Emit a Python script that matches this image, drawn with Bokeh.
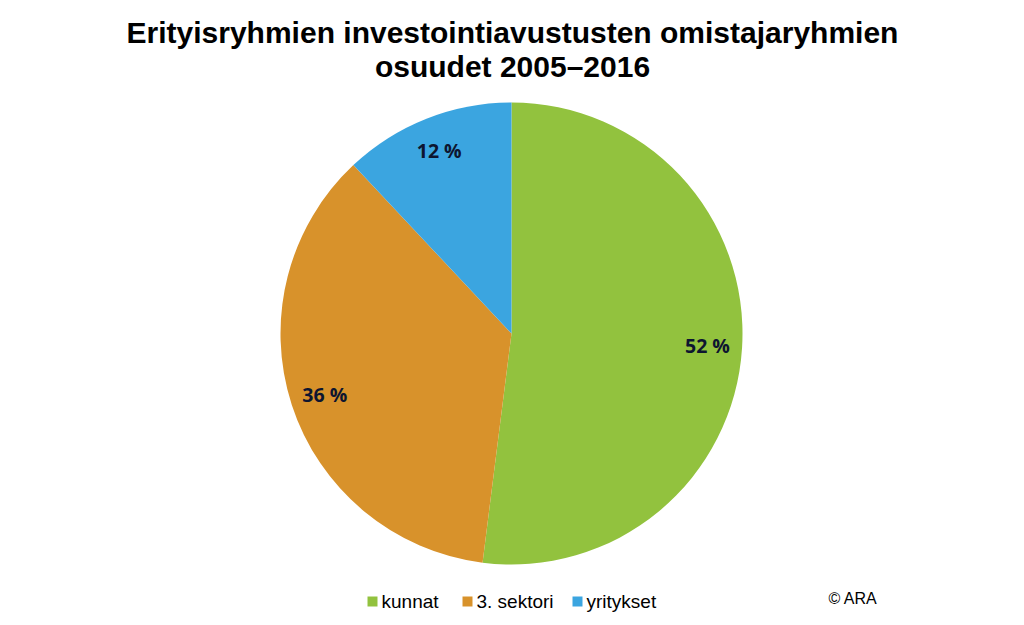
import math
from bokeh.plotting import figure
from bokeh.models import ColumnDataSource
from bokeh.core.properties import value
from bokeh.embed import file_html
from bokeh.resources import INLINE

categories = ["kunnat", "3. sektori", "yritykset"]
shares = [52, 36, 12]
colors = ["#92C23E", "#D8922B", "#3BA5E0"]
label_texts = ["52 %", "36 %", "12 %"]
title_lines = ["Erityisryhmien investointiavustusten omistajaryhmien", "osuudet 2005\u20132016"]
credit = "\u00a9 ARA"

W, H = 1024, 625
cx, cy, r = 511, H - 333, 231

p = figure(width=W, height=H, x_range=(0, W), y_range=(0, H),
           output_backend="svg", toolbar_location=None, min_border=0)
p.axis.visible = False
p.grid.visible = False
p.outline_line_color = None
p.background_fill_color = "white"

# wedges clockwise from top
total = sum(shares)
starts, ends, lx, ly = [], [], [], []
cum = 0
for s in shares:
    a0 = math.pi / 2 - 2 * math.pi * cum / total
    a1 = math.pi / 2 - 2 * math.pi * (cum + s) / total
    starts.append(a1)
    ends.append(a0)
    mid = (a0 + a1) / 2
    lx.append(cx + 0.85 * r * math.cos(mid))
    ly.append(cy + 0.85 * r * math.sin(mid))
    cum += s

src = ColumnDataSource(dict(start=starts, end=ends, color=colors, cat=categories))
p.wedge(x=cx, y=cy, radius=r, start_angle="start", end_angle="end",
        fill_color="color", line_color="white", line_width=0, source=src)

p.text(x=lx, y=ly, text=label_texts, text_font=value("Open Sans"),
       text_font_style="bold", text_font_size="19.5px", text_color="#0d1530",
       text_align="center", text_baseline="middle")

# title
p.text(x=[W / 2, W / 2], y=[H - 32, H - 66], text=title_lines,
       text_font=value("Liberation Sans"), text_font_style="bold",
       text_font_size="30px", text_color="black",
       text_align="center", text_baseline="middle")

# legend
leg_sq_x = [372, 467, 577]
leg_txt_x = [381, 476, 586]
ly_leg = H - 601
p.rect(x=leg_sq_x, y=[ly_leg] * 3, width=10, height=10, fill_color=colors, line_color=None)
p.text(x=leg_txt_x, y=[ly_leg] * 3, text=categories, text_font=value("Liberation Sans"),
       text_font_size="19px", text_color="black", text_baseline="middle", text_align="left")

p.text(x=[828], y=[ly_leg + 3], text=[credit], text_font=value("Liberation Sans"),
       text_font_size="16px", text_color="black", text_baseline="middle", text_align="left")

open("out.html", "w").write(file_html(p, INLINE))
